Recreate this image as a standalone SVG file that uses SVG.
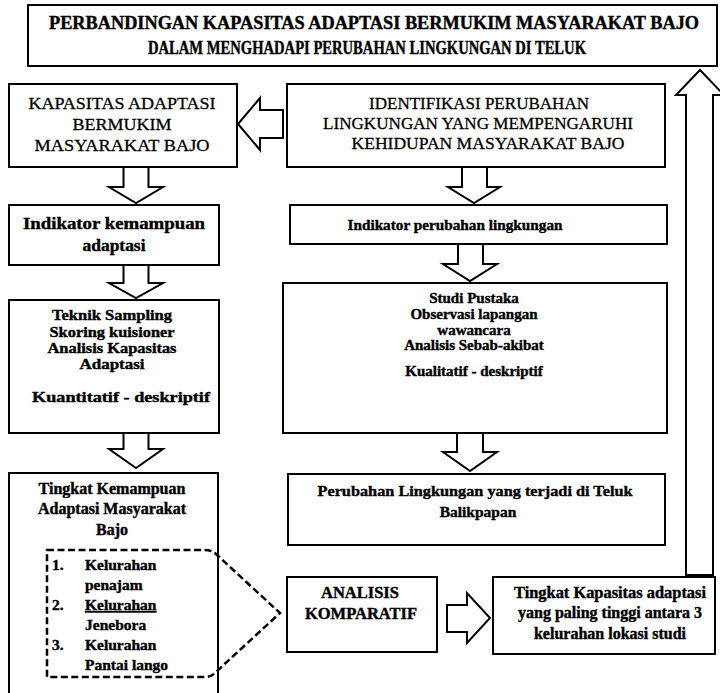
<svg xmlns="http://www.w3.org/2000/svg" width="720" height="693" viewBox="0 0 720 693">
<style>
.box{fill:#fff;stroke:#000;stroke-width:2}
.arr{fill:#fff;stroke:#000;stroke-width:2;stroke-linejoin:miter}
.t{font-family:"Liberation Serif","Times New Roman",serif;fill:#000;text-anchor:middle;stroke:#000;stroke-width:0.3}
.b{font-weight:bold;stroke-width:0.4}
.tl{font-family:"Liberation Serif","Times New Roman",serif;fill:#000;font-weight:bold;font-size:15.5px;stroke:#000;stroke-width:0.4}
.dash{fill:none;stroke:#000;stroke-width:2.5;stroke-dasharray:7 3.5}
</style>
<rect width="720" height="693" fill="#fff"/>

<g id="title">
  <rect class="box" x="28" y="5" width="689" height="61"/>
  <text class="t b" x="374" y="29" font-size="18" textLength="650" lengthAdjust="spacingAndGlyphs">PERBANDINGAN KAPASITAS ADAPTASI BERMUKIM MASYARAKAT BAJO</text>
  <text class="t b" x="367" y="54" font-size="18" textLength="438" lengthAdjust="spacingAndGlyphs">DALAM MENGHADAPI PERUBAHAN LINGKUNGAN DI TELUK</text>
</g>

<g id="kapasitas">
  <rect class="box" x="9" y="84" width="228" height="83"/>
  <text class="t" x="122" y="109" font-size="17.5" textLength="187" lengthAdjust="spacingAndGlyphs">KAPASITAS  ADAPTASI</text>
  <text class="t" x="122" y="130" font-size="17.5" textLength="99" lengthAdjust="spacingAndGlyphs">BERMUKIM</text>
  <text class="t" x="122" y="151" font-size="17.5" textLength="175" lengthAdjust="spacingAndGlyphs">MASYARAKAT  BAJO</text>
</g>

<g id="identifikasi">
  <rect class="box" x="287" y="84" width="378" height="83"/>
  <text class="t" x="479" y="109" font-size="17.5" textLength="220" lengthAdjust="spacingAndGlyphs">IDENTIFIKASI  PERUBAHAN</text>
  <text class="t" x="478" y="129" font-size="17.5" textLength="310" lengthAdjust="spacingAndGlyphs">LINGKUNGAN  YANG MEMPENGARUHI</text>
  <text class="t" x="488" y="149" font-size="17.5" textLength="273" lengthAdjust="spacingAndGlyphs">KEHIDUPAN MASYARAKAT  BAJO</text>
</g>

<g id="indikator-kemampuan">
  <rect class="box" x="9" y="205" width="210" height="60"/>
  <text class="t b" x="114" y="229" font-size="17" textLength="182" lengthAdjust="spacingAndGlyphs">Indikator kemampuan</text>
  <text class="t b" x="114" y="251" font-size="17" textLength="63" lengthAdjust="spacingAndGlyphs">adaptasi</text>
</g>

<g id="indikator-perubahan">
  <rect class="box" x="290" y="205" width="377" height="39"/>
  <text class="t b" x="455" y="230" font-size="15.5" textLength="215" lengthAdjust="spacingAndGlyphs">Indikator perubahan lingkungan</text>
</g>

<g id="teknik">
  <rect class="box" x="9" y="300" width="210" height="133"/>
  <text class="t b" x="112" y="320" font-size="15.5" textLength="120" lengthAdjust="spacingAndGlyphs">Teknik Sampling</text>
  <text class="t b" x="112" y="337" font-size="15.5" textLength="125" lengthAdjust="spacingAndGlyphs">Skoring kuisioner</text>
  <text class="t b" x="112" y="353" font-size="15.5" textLength="129" lengthAdjust="spacingAndGlyphs">Analisis Kapasitas</text>
  <text class="t b" x="112" y="369" font-size="15.5" textLength="65" lengthAdjust="spacingAndGlyphs">Adaptasi</text>
  <text class="t b" x="121" y="402" font-size="15.5" textLength="178" lengthAdjust="spacingAndGlyphs">Kuantitatif - deskriptif</text>
</g>

<g id="studi">
  <rect class="box" x="283" y="283" width="384" height="150"/>
  <text class="t b" x="474" y="303" font-size="15">Studi Pustaka</text>
  <text class="t b" x="474" y="319" font-size="15">Observasi lapangan</text>
  <text class="t b" x="474" y="335" font-size="15">wawancara</text>
  <text class="t b" x="474" y="350" font-size="15">Analisis Sebab-akibat</text>
  <text class="t b" x="474" y="376" font-size="15">Kualitatif - deskriptif</text>
</g>

<g id="perubahan-teluk">
  <rect class="box" x="288" y="474" width="377" height="71"/>
  <text class="t b" x="475" y="496" font-size="15.5" textLength="315" lengthAdjust="spacingAndGlyphs">Perubahan Lingkungan yang terjadi di Teluk</text>
  <text class="t b" x="478" y="517" font-size="15.5">Balikpapan</text>
</g>

<g id="tingkat-kemampuan">
  <rect class="box" x="9" y="473" width="209" height="240"/>
  <text class="t b" x="112" y="494" font-size="16">Tingkat Kemampuan</text>
  <text class="t b" x="112" y="514" font-size="16">Adaptasi Masyarakat</text>
  <text class="t b" x="112" y="535" font-size="16">Bajo</text>
  <text class="tl" x="52" y="570">1.</text>
  <text class="tl" x="85" y="570">Kelurahan</text>
  <text class="tl" x="85" y="590">penajam</text>
  <text class="tl" x="52" y="610">2.</text>
  <text class="tl" x="85" y="610" text-decoration="underline">Kelurahan</text>
  <text class="tl" x="85" y="630">Jenebora</text>
  <text class="tl" x="52" y="650">3.</text>
  <text class="tl" x="85" y="650">Kelurahan</text>
  <text class="tl" x="85" y="670">Pantai lango</text>
</g>

<g id="analisis">
  <rect class="box" x="287" y="577" width="150" height="75"/>
  <text class="t b" x="360" y="598" font-size="16.5">ANALISIS</text>
  <text class="t b" x="361" y="619" font-size="16.5">KOMPARATIF</text>
</g>

<g id="tingkat-kapasitas">
  <rect class="box" x="493" y="577" width="222" height="77"/>
  <text class="t b" x="610" y="598" font-size="16" textLength="192" lengthAdjust="spacingAndGlyphs">Tingkat Kapasitas adaptasi</text>
  <text class="t b" x="610" y="618" font-size="16">yang paling tinggi antara 3</text>
  <text class="t b" x="610" y="639" font-size="16">kelurahan lokasi studi</text>
</g>

<g id="connectors">
  <polygon class="arr" points="123.5,167 148.5,167 148.5,187 163,187 136,203 109,187 123.5,187"/>
  <polygon class="arr" points="123.5,265 148.5,265 148.5,283 163,283 136,298 109,283 123.5,283"/>
  <polygon class="arr" points="123.5,433 148.5,433 148.5,449 163,449 136,468 109,449 123.5,449"/>
  <polygon class="arr" points="462,167 487,167 487,187 500,187 474,203 448,187 462,187"/>
  <polygon class="arr" points="458,244 483,244 483,264 497,264 470,281 443,264 458,264"/>
  <polygon class="arr" points="457,433 483,433 483,452 497,452 470,471 443,452 457,452"/>
  <polygon class="arr" points="238,124 260,98 260,110 283,110 283,138 260,138 260,150"/>
  <polygon class="arr" points="447,605 467,605 467,593 490,618 467,643 467,632 447,632"/>
  <polygon class="arr" points="686,575 686,95 676,95 700,70 724,95 713,95 713,575"/>
  <path class="dash" d="M47,550 L205,550 Q212,550 217,555 L280,613 L217,671 Q212,677 205,677 L47,677 Z"/>
</g>
</svg>
